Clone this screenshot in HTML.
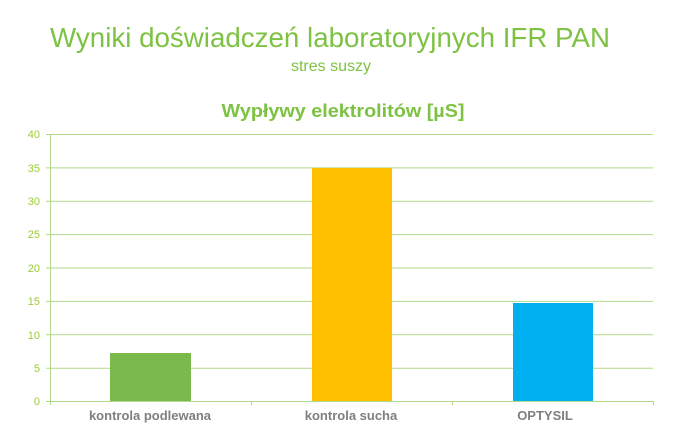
<!DOCTYPE html>
<html><head><style>body{margin:0;background:#fff}svg{display:block}</style></head><body>
<svg width="675" height="446" xmlns="http://www.w3.org/2000/svg" font-family="Liberation Sans, DejaVu Sans, sans-serif">
<text x="330" y="47" text-anchor="middle" font-size="27.5" fill="#7dc242" textLength="560" lengthAdjust="spacingAndGlyphs">Wyniki doświadczeń laboratoryjnych IFR PAN</text>
<text x="331" y="71" text-anchor="middle" font-size="16" fill="#7dc242">stres suszy</text>
<text x="343" y="117" text-anchor="middle" font-size="18" font-weight="bold" fill="#7dc242" textLength="243" lengthAdjust="spacingAndGlyphs">Wypływy elektrolitów  [µS]</text>
<g stroke="#b3d98a" stroke-width="1">
<line x1="46" y1="134.5" x2="653" y2="134.5"/>
<line x1="46" y1="167.9" x2="653" y2="167.9"/>
<line x1="46" y1="201.3" x2="653" y2="201.3"/>
<line x1="46" y1="234.6" x2="653" y2="234.6"/>
<line x1="46" y1="268" x2="653" y2="268"/>
<line x1="46" y1="301.4" x2="653" y2="301.4"/>
<line x1="46" y1="334.8" x2="653" y2="334.8"/>
<line x1="46" y1="368.2" x2="653" y2="368.2"/>
<line x1="46" y1="401.5" x2="653" y2="401.5"/>
<line x1="50.5" y1="134" x2="50.5" y2="405"/>
<line x1="251.5" y1="401" x2="251.5" y2="405"/>
<line x1="452.5" y1="401" x2="452.5" y2="405"/>
<line x1="653.5" y1="401" x2="653.5" y2="405"/>
</g>
<g font-size="11" fill="#9acd32" text-anchor="end">
<text x="40" y="138">40</text><text x="40" y="172">35</text><text x="40" y="205">30</text><text x="40" y="238">25</text><text x="40" y="272">20</text><text x="40" y="305">15</text><text x="40" y="339">10</text><text x="40" y="372">5</text><text x="40" y="405">0</text>
</g>
<rect x="110" y="353" width="81" height="48" fill="#7ab94b"/>
<rect x="312" y="168" width="80" height="233" fill="#ffc000"/>
<rect x="513" y="303" width="80" height="98" fill="#00b0f0"/>
<g font-size="13" font-weight="bold" fill="#7f7f7f" text-anchor="middle">
<text x="150" y="420">kontrola podlewana</text>
<text x="351" y="420">kontrola sucha</text>
<text x="545" y="420">OPTYSIL</text>
</g>
</svg>
</body></html>
